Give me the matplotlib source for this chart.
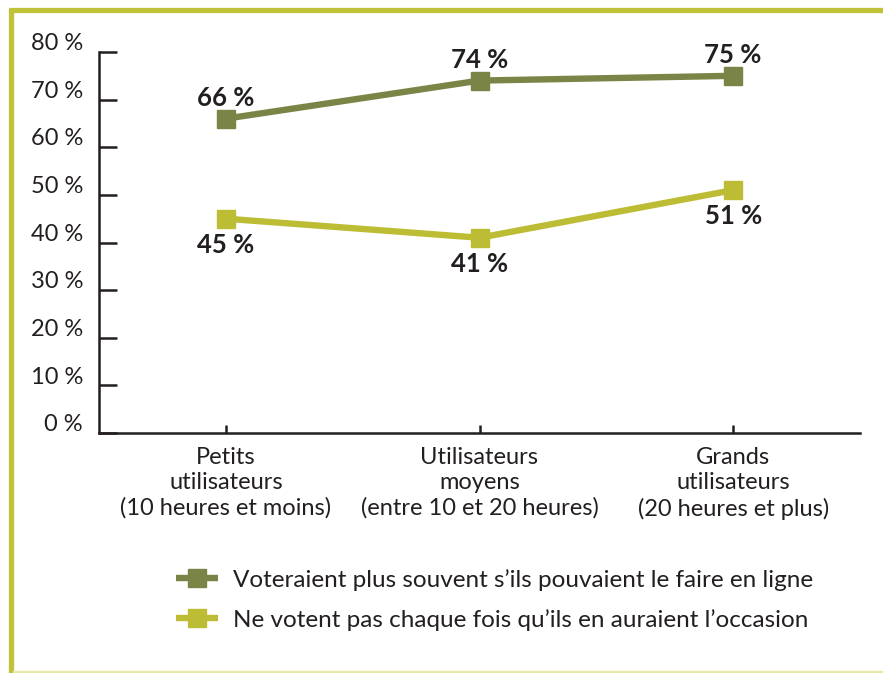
import matplotlib
matplotlib.use("Agg")
import matplotlib.pyplot as plt
from matplotlib.lines import Line2D

plt.rcParams['font.family'] = ['Lato', 'DejaVu Sans']

categories = ["Petits\nutilisateurs\n(10 heures et moins)",
              "Utilisateurs\nmoyens\n(entre 10 et 20 heures)",
              "Grands\nutilisateurs\n(20 heures et plus)"]
en_ligne = [66, 74, 75]
pas_chaque_fois = [45, 41, 51]
series_names = ["Voteraient plus souvent s\u2019ils pouvaient le faire en ligne",
                "Ne votent pas chaque fois qu\u2019ils en auraient l\u2019occasion"]
y_ticks = [0, 10, 20, 30, 40, 50, 60, 70, 80]

dark = "#7b8447"
light = "#bcbd34"
ink = "#231f20"
fs = 17

fig = plt.figure(figsize=(8.83, 6.73), dpi=100)
ax = fig.add_axes([99/883, 1 - 433/673, (860 - 99)/883, (433 - 52)/673])

x = list(range(len(categories)))
ax.plot(x, en_ligne, color=dark, lw=4.6, marker='s', ms=12.5,
        label=series_names[0], solid_capstyle='butt')
ax.plot(x, pas_chaque_fois, color=light, lw=4.6, marker='s', ms=12.5,
        label=series_names[1], solid_capstyle='butt')

for xi, v in zip(x, en_ligne):
    ax.annotate(f"{v} %", (xi, v), xytext=(0, 6.5), textcoords='offset points',
                ha='center', va='bottom', fontsize=18.5, fontweight='bold', color=ink)
for xi, v in zip(x, pas_chaque_fois):
    ax.annotate(f"{v} %", (xi, v), xytext=(0, -10), textcoords='offset points',
                ha='center', va='top', fontsize=18.5, fontweight='bold', color=ink)

ax.set_xlim(-0.5, 2.5)
ax.set_ylim(0, 80)
ax.spines['top'].set_visible(False)
ax.spines['right'].set_visible(False)
for s in ('left', 'bottom'):
    ax.spines[s].set_color(ink)
    ax.spines[s].set_linewidth(1.8)

ax.set_yticks(y_ticks)
ax.set_yticklabels([])
ax.tick_params(axis='y', direction='in', length=13, width=1.8, color=ink)
for t in y_ticks:
    ax.annotate(f"{t} %", (0, t), xycoords=ax.get_yaxis_transform(),
                xytext=(-11.5, 6), textcoords='offset points',
                ha='right', va='center', fontsize=fs, color=ink)

ax.set_xticks(x)
ax.set_xticklabels(categories, fontsize=fs, color=ink, linespacing=1.25)
ax.tick_params(axis='x', direction='in', length=6, width=1.8, color=ink, pad=10)

leg = ax.legend(loc='upper left', bbox_to_anchor=(154/883, 1 - 547/673),
                bbox_transform=fig.transFigure, frameon=False,
                prop={'size': 17.5},
                handlelength=1.75, handletextpad=0.6, labelspacing=0.75, labelcolor=ink)

# cadre
fig.add_artist(Line2D([9/883, 1], [1 - 10/673, 1 - 10/673], color="#c0c23a", lw=3.8,
                      transform=fig.transFigure, solid_capstyle='butt'))
fig.add_artist(Line2D([10.5/883, 10.5/883], [1 - 8/673, 0], color="#c0c23a", lw=3.8,
                      transform=fig.transFigure, solid_capstyle='butt'))
fig.add_artist(Line2D([13/883, 1], [1.5/673, 1.5/673], color="#e6e8a6", lw=1.6,
                      transform=fig.transFigure, solid_capstyle='butt'))

fig.savefig("out.png", dpi=100)
